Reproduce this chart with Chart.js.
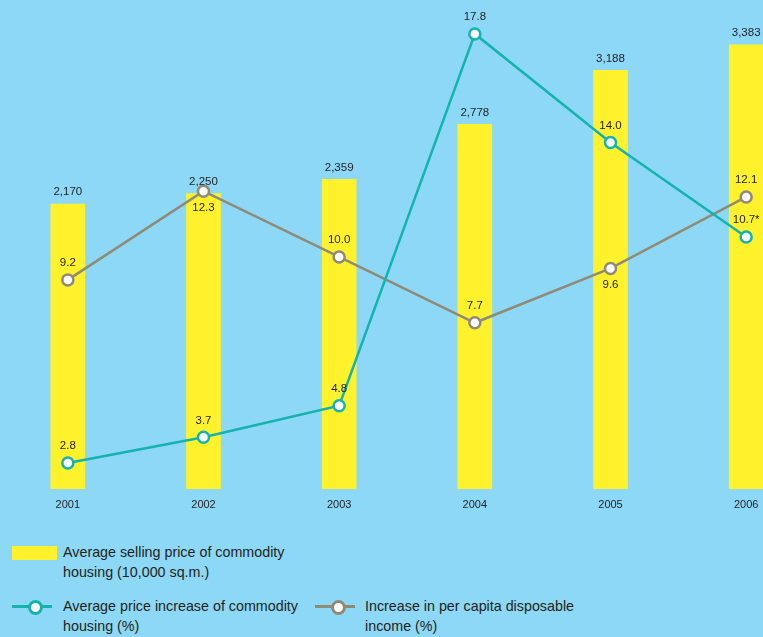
<!DOCTYPE html>
<html>
<head>
<meta charset="utf-8">
<script src="https://cdn.jsdelivr.net/npm/chart.js@4.4.1/dist/chart.umd.min.js"></script>
<style>
  html, body { margin: 0; padding: 0; width: 763px; height: 637px; overflow: hidden; background: #8dd8f6; }
  body { position: relative; font-family: 'Liberation Sans', Arial, sans-serif; color: #231f20; }
  /* the line points add ~8px padding round the chart area, so the canvas is shifted to cancel it */
  #wrap { position: absolute; left: -8px; top: -8px; width: 830px; height: 528px; }
  .txt { position: absolute; font-size: 14.3px; line-height: 20px; white-space: nowrap; }
  .box { position: absolute; width: 45px; height: 14px; background: #fff22c; }
  .ln { position: absolute; height: 3px; width: 40px; }
  .dot { position: absolute; width: 9px; height: 9px; border-radius: 50%; background: #fff; border: 3px solid; }
</style>
</head>
<body>
<div id="wrap"><canvas id="c" width="830" height="528"></canvas></div>

<div class="box" style="left:12px;top:546px"></div>
<div class="txt" style="left:63px;top:542px">Average selling price of commodity<br>housing (10,000 sq.m.)</div>

<div class="ln" style="left:12px;top:605px;background:#14b3ae"></div>
<div class="dot" style="left:28px;top:600px;border-color:#14b3ae"></div>
<div class="txt" style="left:63px;top:596px">Average price increase of commodity<br>housing (%)</div>

<div class="ln" style="left:315px;top:605px;background:#8f8b77"></div>
<div class="dot" style="left:331px;top:600px;border-color:#8f8b77"></div>
<div class="txt" style="left:365px;top:596px">Increase in per capita disposable<br>income (%)</div>

<script>
const years = ['2001', '2002', '2003', '2004', '2005', '2006']
const sellingPrice = [2170, 2250, 2359, 2778, 3188, 3383]
const priceIncrease = [2.8, 3.7, 4.8, 17.8, 14.0, 10.7]
const priceNotes = ['', '', '', '', '', '*']
const incomeIncrease = [9.2, 12.3, 10.0, 7.7, 9.6, 12.1]
const incomeLabelSide = ['up', 'down', 'up', 'up', 'down', 'up']

const TEAL = '#14b3ae', GREY = '#8f8b77', YEL = '#fff22c', INK = '#231f20'
const FONT = '"Liberation Sans", Arial, sans-serif'

const valueLabels = {
  id: 'valueLabels',
  afterDatasetsDraw(chart) {
    const ctx = chart.ctx
    ctx.save()
    ctx.font = '11.5px ' + FONT
    ctx.fillStyle = INK
    ctx.textAlign = 'center'
    chart.getDatasetMeta(0).data.forEach((b, i) => {
      ctx.textBaseline = 'bottom'
      ctx.fillText(sellingPrice[i].toLocaleString('en-US'), b.x, b.y - 6)
    })
    chart.getDatasetMeta(1).data.forEach((p, i) => {
      ctx.textBaseline = 'bottom'
      ctx.fillText(priceIncrease[i].toFixed(1) + priceNotes[i], p.x, p.y - 11)
    })
    chart.getDatasetMeta(2).data.forEach((p, i) => {
      if (incomeLabelSide[i] === 'up') {
        ctx.textBaseline = 'bottom'
        ctx.fillText(incomeIncrease[i].toFixed(1), p.x, p.y - 11)
      } else {
        ctx.textBaseline = 'top'
        ctx.fillText(incomeIncrease[i].toFixed(1), p.x, p.y + 11)
      }
    })
    ctx.restore()
  }
}

new Chart(document.getElementById('c'), {
  type: 'bar',
  data: {
    labels: years,
    datasets: [
      { type: 'bar', data: sellingPrice, backgroundColor: YEL, borderWidth: 0, barThickness: 34, yAxisID: 'y', order: 3 },
      { type: 'line', data: priceIncrease, borderColor: TEAL, borderWidth: 2.5, pointRadius: 5.5, pointBorderWidth: 2.5,
        pointBackgroundColor: '#fff', pointBorderColor: TEAL, tension: 0, yAxisID: 'y2', order: 1, clip: false },
      { type: 'line', data: incomeIncrease, borderColor: GREY, borderWidth: 2.5, pointRadius: 5.5, pointBorderWidth: 2.5,
        pointBackgroundColor: '#fff', pointBorderColor: GREY, tension: 0, yAxisID: 'y2', order: 2, clip: false },
    ],
  },
  options: {
    responsive: false, animation: false,
    layout: { padding: 0 },
    plugins: { legend: { display: false }, tooltip: { enabled: false } },
    scales: {
      x: {
        offset: true,
        grid: { display: false, drawTicks: false }, border: { display: false },
        ticks: { color: INK, font: { size: 11, family: FONT }, padding: 9 },
        afterFit: s => { s.height = 31 },
      },
      y: { display: false, min: 0, max: 3724 },
      y2: { display: false, min: 1.888, max: 18.986 },
    },
  },
  plugins: [valueLabels],
})
</script>
</body>
</html>
